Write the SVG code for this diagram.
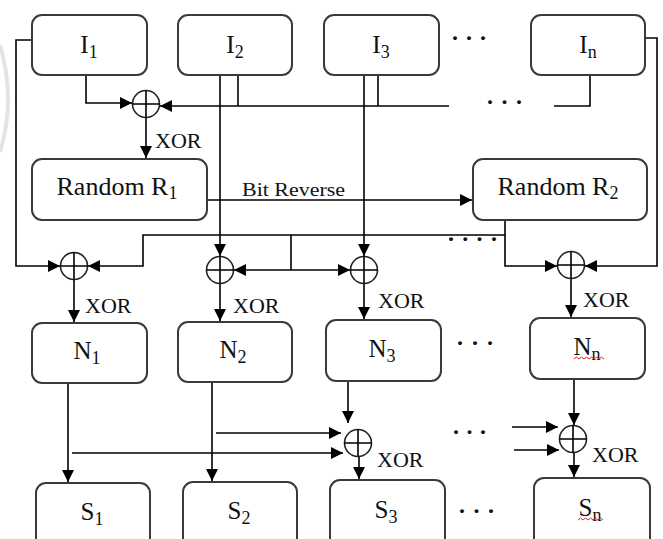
<svg xmlns="http://www.w3.org/2000/svg" width="663" height="539" viewBox="0 0 663 539">
<style>
.box{fill:#fff;stroke:#3a3a3a;stroke-width:2}
.lbl{font-family:"Liberation Serif",serif;font-size:25px;fill:#111;text-anchor:middle}
.sub{font-size:18px}
.xor{font-family:"Liberation Serif",serif;font-size:22px;fill:#111}
.br{font-family:"Liberation Serif",serif;font-size:19px;fill:#111}
.dots{font-family:"Liberation Serif",serif;font-size:24px;font-weight:bold;fill:#111}
.ln{fill:none;stroke:#000;stroke-width:1.6}
.la{fill:none;stroke:#000;stroke-width:1.6;marker-end:url(#ah)}
.xc{fill:#fff;stroke:#222;stroke-width:1.6}
.wave{fill:none;stroke:#e02020;stroke-width:1}
</style>
<defs>
<marker id="ah" markerUnits="userSpaceOnUse" markerWidth="13" markerHeight="12" refX="12" refY="6" orient="auto">
<path d="M0,0 L12,6 L0,12 z" fill="#000"/>
</marker>
</defs>
<rect width="663" height="539" fill="#fff"/>
<path d="M0 45 Q16 100 0 152" fill="none" stroke="#e4e4e4" stroke-width="4"/>

<g id="connectors">
<!-- top bus -->
<path class="la" d="M86 75 V103 H132"/>
<path class="ln" d="M238 75 V106"/>
<path class="ln" d="M378 75 V106"/>
<path class="la" d="M449 106 H160"/>
<path class="ln" d="M590 75 V106 H554"/>
<!-- side feeds -->
<path class="la" d="M32 40 H16 V266 H60"/>
<path class="la" d="M645 38 H657 V266 H585"/>
<!-- top xor to R1 -->
<path class="la" d="M146 118 V158"/>
<!-- bit reverse -->
<path class="la" d="M207 200 H472"/>
<!-- I2 / I3 verticals -->
<path class="la" d="M220 75 V256"/>
<path class="la" d="M364 75 V256"/>
<!-- R2 bus -->
<path class="la" d="M505 220 V266 H557"/>
<path class="la" d="M505 235 H143 V266 H88"/>
<path class="ln" d="M291 235 V270"/>
<path class="la" d="M291 270 H234"/>
<path class="la" d="M291 270 H350"/>
<!-- circle outputs to N -->
<path class="la" d="M74 280 V322"/>
<path class="la" d="M220 284 V321"/>
<path class="la" d="M364 284 V319"/>
<path class="la" d="M571 279 V317"/>
<!-- N to S -->
<path class="la" d="M68 383 V482"/>
<path class="la" d="M212 382 V481"/>
<path class="la" d="M72 453 H343"/>
<path class="la" d="M216 433 H341"/>
<path class="la" d="M348 381 V423"/>
<path class="la" d="M359 456 V479"/>
<path class="la" d="M574 379 V425"/>
<path class="la" d="M512 427 H558"/>
<path class="la" d="M514 450 H559"/>
<path class="la" d="M574 452 V477"/>
</g>

<g id="xor-top"><circle class="xc" cx="146" cy="104" r="13.5"/><path class="ln" d="M132.5 104 H159.5 M146 90.5 V117.5"/><text class="xor" x="155" y="148">XOR</text></g>
<g id="xor-1"><circle class="xc" cx="74" cy="266" r="13.5"/><path class="ln" d="M60.5 266 H87.5 M74 252.5 V279.5"/><text class="xor" x="85" y="313">XOR</text></g>
<g id="xor-2"><circle class="xc" cx="220" cy="270" r="13.5"/><path class="ln" d="M206.5 270 H233.5 M220 256.5 V283.5"/><text class="xor" x="233" y="313">XOR</text></g>
<g id="xor-3"><circle class="xc" cx="364" cy="270" r="13.5"/><path class="ln" d="M350.5 270 H377.5 M364 256.5 V283.5"/><text class="xor" x="378" y="308">XOR</text></g>
<g id="xor-4"><circle class="xc" cx="571" cy="265" r="13.5"/><path class="ln" d="M557.5 265 H584.5 M571 251.5 V278.5"/><text class="xor" x="583" y="307">XOR</text></g>
<g id="xor-5"><circle class="xc" cx="358" cy="443" r="13.5"/><path class="ln" d="M344.5 443 H371.5 M358 429.5 V456.5"/><text class="xor" x="377" y="467">XOR</text></g>
<g id="xor-6"><circle class="xc" cx="573" cy="439" r="13.5"/><path class="ln" d="M559.5 439 H586.5 M573 425.5 V452.5"/><text class="xor" x="592" y="462">XOR</text></g>

<g id="I1"><rect class="box" x="32" y="15" width="115" height="60" rx="10"/><text class="lbl" x="89" y="53">I<tspan class="sub" dy="5">1</tspan></text></g>
<g id="I2"><rect class="box" x="178" y="15" width="114" height="60" rx="10"/><text class="lbl" x="235" y="53">I<tspan class="sub" dy="5">2</tspan></text></g>
<g id="I3"><rect class="box" x="324" y="15" width="115" height="60" rx="10"/><text class="lbl" x="381" y="53">I<tspan class="sub" dy="5">3</tspan></text></g>
<g id="In"><rect class="box" x="531" y="15" width="114" height="60" rx="10"/><text class="lbl" x="588" y="53">I<tspan class="sub" dy="5">n</tspan></text></g>

<g id="R1"><rect class="box" x="32" y="159" width="175" height="61" rx="10"/><text class="lbl" x="117" y="195" style="font-size:26px">Random R<tspan class="sub" dy="4">1</tspan></text></g>
<g id="R2"><rect class="box" x="473" y="159" width="174" height="61" rx="10"/><text class="lbl" x="558" y="195" style="font-size:26px">Random R<tspan class="sub" dy="4">2</tspan></text></g>
<text class="br" x="242" y="196" textLength="103" lengthAdjust="spacingAndGlyphs">Bit Reverse</text>

<g id="N1"><rect class="box" x="32" y="323" width="115" height="60" rx="10"/><text class="lbl" x="87" y="359">N<tspan class="sub" dy="5">1</tspan></text></g>
<g id="N2"><rect class="box" x="178" y="322" width="114" height="60" rx="10"/><text class="lbl" x="233" y="358">N<tspan class="sub" dy="5">2</tspan></text></g>
<g id="N3"><rect class="box" x="326" y="320" width="115" height="61" rx="10"/><text class="lbl" x="382" y="357">N<tspan class="sub" dy="5">3</tspan></text></g>
<g id="Nn"><rect class="box" x="530" y="318" width="115" height="61" rx="10"/><text class="lbl" x="587" y="355">N<tspan class="sub" dy="5">n</tspan></text><path class="wave" d="M574 359 l2.5 -2 l2.5 2 l2.5 -2 l2.5 2 l2.5 -2 l2.5 2 l2.5 -2 l2.5 2 l2.5 -2 l2.5 2 l2.5 -2 l2.5 2"/></g>

<g id="S1"><rect class="box" x="36" y="483" width="114" height="70" rx="10"/><text class="lbl" x="92" y="520">S<tspan class="sub" dy="5">1</tspan></text></g>
<g id="S2"><rect class="box" x="183" y="482" width="114" height="70" rx="10"/><text class="lbl" x="239" y="519">S<tspan class="sub" dy="5">2</tspan></text></g>
<g id="S3"><rect class="box" x="330" y="480" width="115" height="70" rx="10"/><text class="lbl" x="386" y="518">S<tspan class="sub" dy="5">3</tspan></text></g>
<g id="Sn"><rect class="box" x="534" y="478" width="116" height="70" rx="10"/><text class="lbl" x="590" y="516">S<tspan class="sub" dy="5">n</tspan></text><path class="wave" d="M578 520 l2.5 -2 l2.5 2 l2.5 -2 l2.5 2 l2.5 -2 l2.5 2 l2.5 -2 l2.5 2 l2.5 -2 l2.5 2"/></g>

<g id="ellipses">
<text class="dots" x="452" y="40" letter-spacing="8">...</text>
<text class="dots" x="487" y="104" letter-spacing="8.5">...</text>
<text class="dots" x="448" y="241" letter-spacing="8.3">....</text>
<text class="dots" x="457" y="345" letter-spacing="9">...</text>
<text class="dots" x="453" y="434" letter-spacing="7.5">...</text>
<text class="dots" x="459" y="513" letter-spacing="8.5">...</text>
</g>
</svg>
